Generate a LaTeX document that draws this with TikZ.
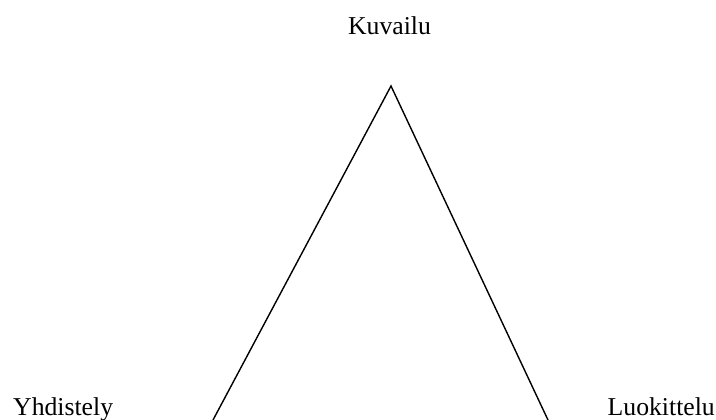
\documentclass[tikz,border=0pt]{standalone}
\usepackage{fontspec}
\setmainfont{Liberation Serif}
\begin{document}
\begin{tikzpicture}[x=1pt,y=-1pt,
  lbl/.style={inner sep=0pt,font=\fontsize{25.7}{30}\selectfont},
  side/.style={line width=1.4pt,black}]
  \useasboundingbox (0,0) rectangle (716,420);
  \clip (0,0) rectangle (716,420);
  % corners of the triangle (base runs below the lower edge)
  \coordinate (top) at (391,86);
  \coordinate (bl) at (213,420);
  \coordinate (br) at (548,420);
  \draw[side] (bl) -- (top) -- (br);
  % corner labels
  \node[lbl,anchor=base] (kuv) at (389.5,35) {Kuvailu};
  \node[lbl,anchor=base west] (yhd) at (13,415) {Yhdistely};
  \node[lbl,anchor=base east] (luo) at (715,415) {Luokittelu};
\end{tikzpicture}
\end{document}
